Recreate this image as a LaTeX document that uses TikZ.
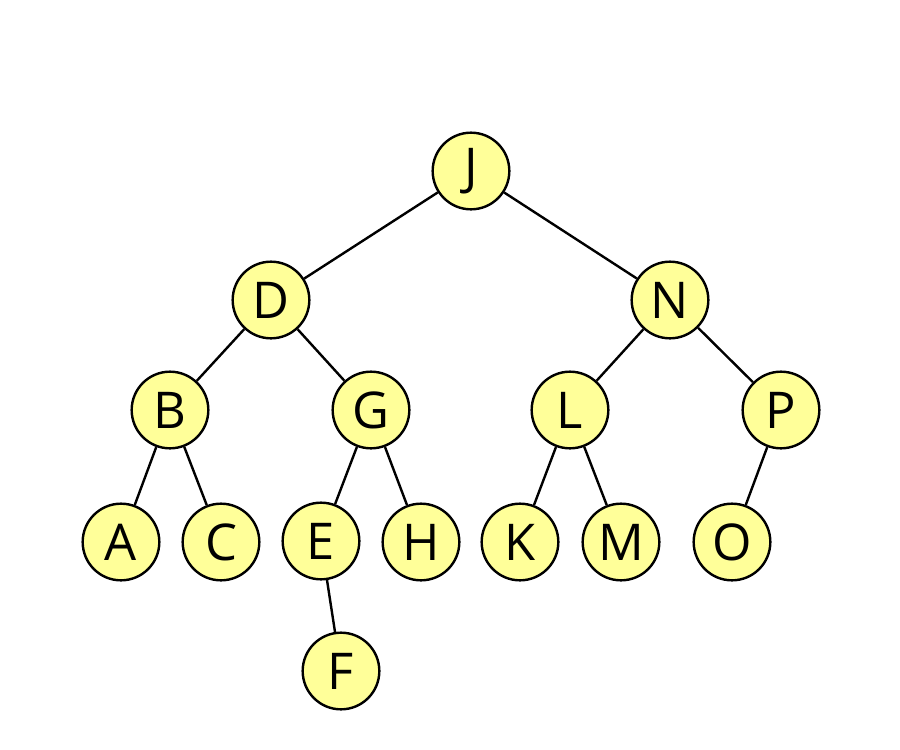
\documentclass[tikz,border=0pt]{standalone}
\usepackage{fontspec}
\setmainfont{Open Sans}
\definecolor{vertexfill}{RGB}{255,255,153}
\tikzset{
  vertex/.style={circle,draw=black,line width=1.8pt,fill=vertexfill,
    minimum size=57.5pt,inner sep=0pt,font=\fontsize{38}{40}\selectfont},
  edge/.style={line width=1.8pt}
}
\begin{document}
\begin{tikzpicture}[x=0.75pt,y=0.75pt,yscale=-1]
\useasboundingbox (0,0) rectangle (900,750);

% Level 0
\node [vertex] (J) at (471,171) {J};
% Level 1
\node [vertex] (D) at (271,300) {D};
\node [vertex] (N) at (670,300) {N};
% Level 2
\node [vertex] (B) at (170,410) {B};
\node [vertex] (G) at (371,410) {G};
\node [vertex] (L) at (570,410) {L};
\node [vertex] (P) at (781,410) {P};
% Level 3
\node [vertex] (A) at (121,542) {A};
\node [vertex] (C) at (221,542) {C};
\node [vertex] (E) at (321,541) {E};
\node [vertex] (H) at (421,542) {H};
\node [vertex] (K) at (520,542) {K};
\node [vertex] (M) at (621,542) {M};
\node [vertex] (O) at (732,542) {O};
% Level 4
\node [vertex] (F) at (341,671) {F};

% Edges
\draw [edge] (J) -- (D);
\draw [edge] (J) -- (N);
\draw [edge] (D) -- (B);
\draw [edge] (D) -- (G);
\draw [edge] (N) -- (L);
\draw [edge] (N) -- (P);
\draw [edge] (B) -- (A);
\draw [edge] (B) -- (C);
\draw [edge] (G) -- (E);
\draw [edge] (G) -- (H);
\draw [edge] (L) -- (K);
\draw [edge] (L) -- (M);
\draw [edge] (P) -- (O);
\draw [edge] (E) -- (F);

\end{tikzpicture}
\end{document}
